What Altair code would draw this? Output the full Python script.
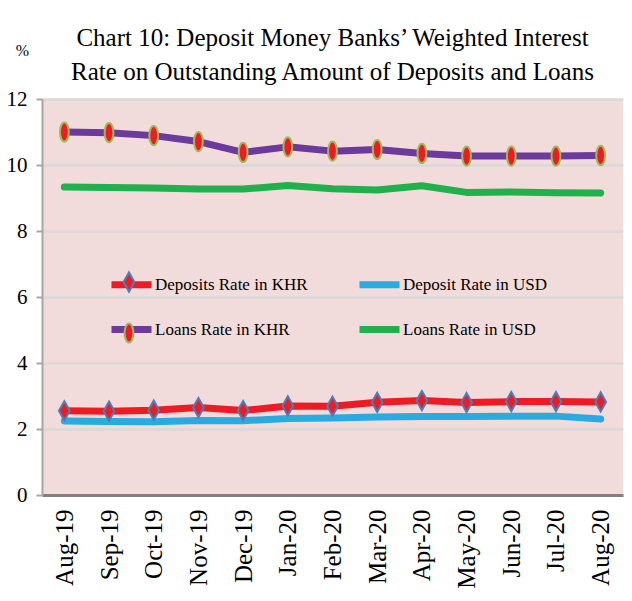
import altair as alt
import pandas as pd

months = ["Aug-19", "Sep-19", "Oct-19", "Nov-19", "Dec-19", "Jan-20", "Feb-20",
          "Mar-20", "Apr-20", "May-20", "Jun-20", "Jul-20", "Aug-20"]
dep_khr = [2.55, 2.54, 2.57, 2.65, 2.56, 2.70, 2.69, 2.81, 2.86, 2.80, 2.83, 2.83, 2.82]
dep_usd = [2.24, 2.23, 2.22, 2.26, 2.25, 2.32, 2.33, 2.36, 2.38, 2.38, 2.39, 2.39, 2.30]
loan_khr = [11.00, 10.98, 10.89, 10.71, 10.38, 10.55, 10.42, 10.47, 10.35, 10.27, 10.27, 10.27, 10.29]
loan_usd = [9.33, 9.32, 9.30, 9.27, 9.27, 9.38, 9.28, 9.24, 9.37, 9.17, 9.18, 9.16, 9.15]

series_names = ["Deposits Rate in KHR", "Deposit Rate in USD", "Loans Rate in KHR", "Loans Rate in USD"]
line_colors = ["#ED1C24", "#29ABE2", "#6B3A9A", "#21B04B"]
marker_series = ["Deposits Rate in KHR", "Loans Rate in KHR"]
marker_strokes = ["#4A7EBB", "#9BBB59"]
marker_paths = [
    "M0,-0.48L0.27,0L0,0.48L-0.27,0Z",
    "M0,-0.48A0.22,0.48,0,1,1,0,0.48A0.22,0.48,0,1,1,0,-0.48Z",
]

rows = []
for name, vals in zip(series_names, [dep_khr, dep_usd, loan_khr, loan_usd]):
    for i, (m, v) in enumerate(zip(months, vals)):
        rows.append({"month": m, "idx": i, "value": v, "series": name})
df = pd.DataFrame(rows)
df_markers = df[df["series"].isin(marker_series)]

FONT = "Liberation Serif"

x_enc = alt.X("month:N", sort=months, scale=alt.Scale(type="point", padding=0.5),
              axis=alt.Axis(title=None, labelAngle=-90, labelAlign="right", labelBaseline="middle",
                            labelFont=FONT, labelFontSize=25, labelColor="#000000", labelPadding=14,
                            ticks=False, grid=False, domainColor="#808080", domainWidth=3))
y_enc = alt.Y("value:Q", scale=alt.Scale(domain=[0, 12], nice=False, zero=True),
              axis=alt.Axis(values=[0, 2, 4, 6, 8, 10, 12], title="%", titleAngle=0,
                            titleX=-20, titleY=-49, titleAlign="center", titleBaseline="middle",
                            titleFont=FONT, titleFontSize=16, titleFontWeight="normal",
                            titleColor="#000000",
                            labelFont=FONT, labelFontSize=21, labelColor="#000000", labelPadding=9,
                            tickColor="#A6A6A6", tickSize=6, tickWidth=2,
                            domainColor="#A6A6A6", domainWidth=2,
                            grid=True, gridColor="#D9D9D9", gridWidth=2.5))

lines = alt.Chart(df).mark_line(strokeWidth=7, strokeCap="round", strokeJoin="round").encode(
    x=x_enc, y=y_enc,
    color=alt.Color("series:N", sort=series_names,
                    scale=alt.Scale(domain=series_names, range=line_colors),
                    legend=alt.Legend(orient="none", legendX=66, legendY=162, columns=2,
                                      direction="horizontal",
                                      title=None, symbolType="stroke", symbolSize=1600,
                                      symbolStrokeWidth=7, labelFont=FONT, labelFontSize=17,
                                      labelColor="#000000", labelOffset=0, rowPadding=7,
                                      columnPadding=37, labelLimit=400)),
    order=alt.Order("idx:Q"),
)

marker_legend = alt.Legend(orient="none", legendX=66, legendY=162, direction="vertical",
                           title=None, symbolSize=1600, symbolStrokeWidth=2,
                           symbolFillColor="#ED1C24", symbolOpacity=1,
                           labelExpr="''", labelFontSize=17,
                           labelOffset=0, rowPadding=16, labelLimit=400)

markers = alt.Chart(df_markers).mark_point(filled=True, fill="#ED1C24", strokeWidth=2, size=1600,
                                          opacity=1).encode(
    x=alt.X("month:N", sort=months),
    y="value:Q",
    stroke=alt.Stroke("series:N", scale=alt.Scale(domain=marker_series, range=marker_strokes),
                      legend=marker_legend),
    shape=alt.Shape("series:N", scale=alt.Scale(domain=marker_series, range=marker_paths),
                    legend=marker_legend),
)

chart = alt.layer(lines, markers).properties(
    width=581, height=396,
    title=alt.TitleParams(
        text=["Chart 10: Deposit Money Banks\u2019 Weighted Interest",
              "Rate on Outstanding Amount of Deposits and Loans"],
        font=FONT, fontSize=25, fontWeight="normal", color="#000000",
        anchor="middle", baseline="bottom", lineHeight=34, offset=0, dy=68),
    autosize=alt.AutoSizeParams(type="none"),
    padding={"left": 34, "top": 91, "right": 1, "bottom": 98},
    background="#FFFFFF",
).configure_view(fill="#F2DCDB", stroke=None)

chart.save("out.html", embed_options={"renderer": "svg", "actions": False})
